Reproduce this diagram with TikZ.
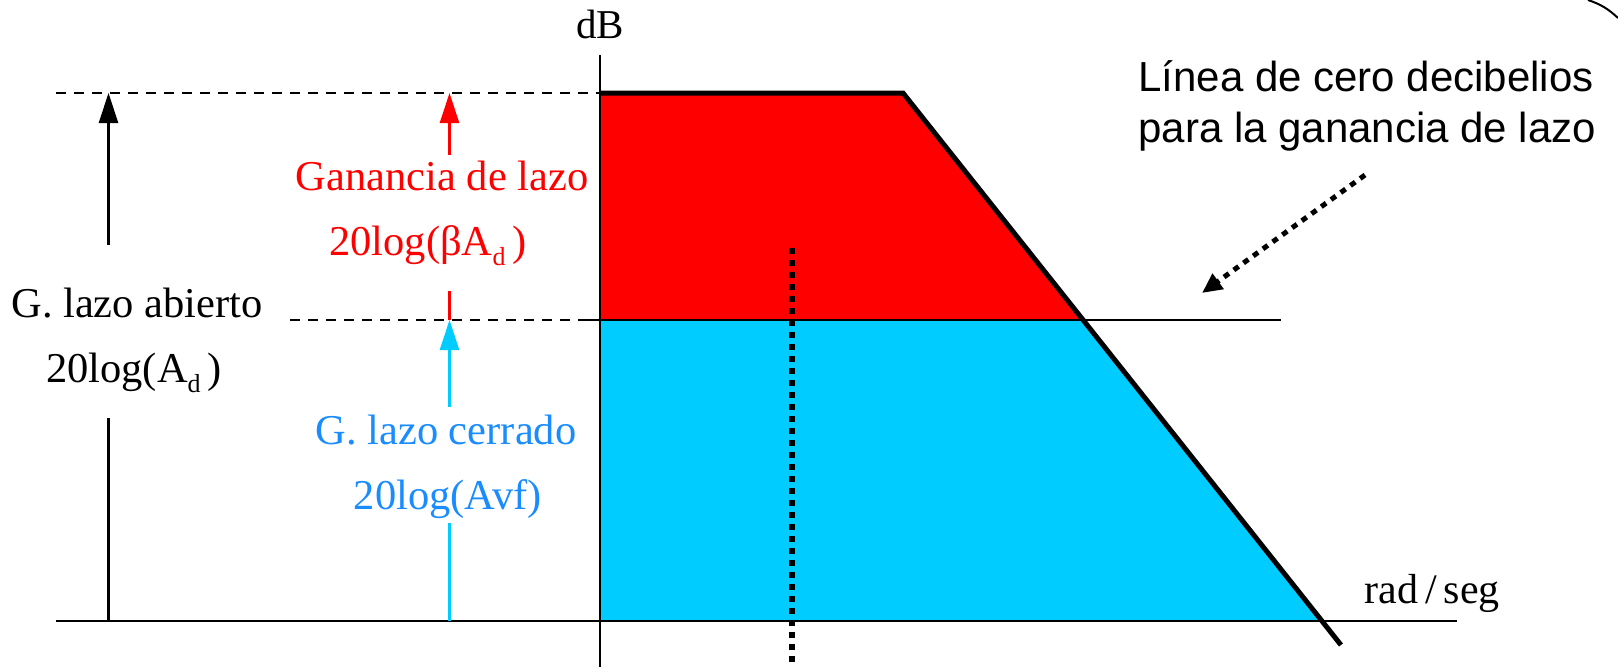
\documentclass[tikz,border=0pt]{standalone}
\usepackage{fontspec}
\setmainfont{Liberation Serif}
\newfontfamily\arialf{Liberation Sans}
\usetikzlibrary{arrows.meta}
\definecolor{myred}{RGB}{255,0,0}
\definecolor{mycyan}{RGB}{0,204,255}
\definecolor{myblue}{RGB}{25,140,255}
\newcommand{\subd}{\raisebox{-5pt}{\fontsize{13}{13}\selectfont d}}
\tikzset{
  lbl/.style={font=\fontsize{21.25}{25}\selectfont, inner sep=0pt, anchor=base},
  smalllbl/.style={font=\fontsize{20.5}{24}\selectfont, inner sep=0pt, anchor=base},
  sanslbl/.style={font=\arialf\fontsize{21}{25}\selectfont, inner sep=0pt, anchor=base west},
  axisline/.style={line width=1pt, black},
  guide/.style={line width=1pt, black, dash pattern=on 5pt off 4pt},
  gainarrow/.style={line width=1.4pt, -{Triangle[length=15pt,width=9.5pt]}},
  gainseg/.style={line width=1.4pt},
  dotline/.style={line width=3pt, black, dash pattern=on 3pt off 3pt},
  curve/.style={line width=2.5pt, black, line join=miter},
}
\begin{document}
\begin{tikzpicture}[x=0.5pt,y=-0.5pt]
\useasboundingbox (0,0) rectangle (1618,669);
% coordinates
\coordinate (O) at (600,621);
\coordinate (Ytop) at (600,55);
\coordinate (Ybot) at (600,667);
\coordinate (Xl) at (56,621);
\coordinate (Xr) at (1457,621);
\coordinate (T0) at (600,93);
\coordinate (T1) at (903,93);
\coordinate (M0) at (600,320);
\coordinate (M1) at (1083,320);
\coordinate (B1) at (1322,621);
\coordinate (Cend) at (1341,645);
% fills
\fill[myred] (T0) -- (T1) -- (M1) -- (M0) -- cycle;
\fill[mycyan] (M0) -- (M1) -- (B1) -- (O) -- cycle;
% axes
\draw[axisline] (Ytop) -- (Ybot);
\draw[axisline] (Xl) -- (Xr);
% guides
\coordinate (TDl) at (56,93);
\coordinate (MDl) at (290,320);
\coordinate (MSl) at (587,320);
\coordinate (MSr) at (1281,320);
\draw[guide] (TDl) -- (T0);
\draw[guide] (MDl) -- (M0);
\draw[axisline] (MSl) -- (MSr);
% response curve
\draw[curve] (T0) -- (T1) -- (Cend);
% vertical dotted line
\coordinate (V0) at (792,248);
\coordinate (V1) at (792,663);
\draw[dotline] (V0) -- (V1);
% open-loop gain arrow (black)
\coordinate (Ka) at (108.5,245);
\coordinate (Kt) at (108.5,93);
\coordinate (Kb) at (108.5,418);
\coordinate (Kz) at (108.5,621);
\draw[gainarrow, black] (Ka) -- (Kt);
\draw[gainseg, black] (Kb) -- (Kz);
% loop gain arrow (red)
\coordinate (Ra) at (449.5,155);
\coordinate (Rt) at (449.5,93);
\coordinate (Rb) at (449.5,291);
\coordinate (Rz) at (449.5,320);
\draw[gainarrow, myred] (Ra) -- (Rt);
\draw[gainseg, myred] (Rb) -- (Rz);
% closed-loop gain arrow (cyan)
\coordinate (Ca) at (449.5,407);
\coordinate (Ct) at (449.5,320);
\coordinate (Cb) at (449.5,523);
\coordinate (Cz) at (449.5,621);
\draw[gainarrow, mycyan] (Ca) -- (Ct);
\draw[gainseg, mycyan] (Cb) -- (Cz);
% labels
\node[smalllbl] (dB) at (600,39) {dB};
\node[smalllbl, font=\fontsize{21}{24}\selectfont, anchor=base west] (rs) at (1364,603) {rad\,/\,seg};
\node[lbl, text=myred] (g1) at (442,190) {Ganancia de lazo};
\node[lbl, text=myred] (g2) at (428,255) {20log(βA\subd\,)};
\node[lbl] (o1) at (137,317) {G. lazo abierto};
\node[lbl] (o2) at (134,382) {20log(A\subd\,)};
\node[lbl, text=myblue] (c1) at (446,444) {G. lazo cerrado};
\node[lbl, text=myblue] (c2) at (448,509) {20log(Avf)};
\node[sanslbl] (n1) at (1138,91) {Línea de cero decibelios};
\node[sanslbl] (n2) at (1138,142) {para la ganancia de lazo};
% pointer
\coordinate (Ps) at (1365,175);
\coordinate (Pe) at (1202,293);
\draw[line width=2.5pt, dash pattern=on 3pt off 3pt, -{Triangle[length=10pt,width=9pt]}] (Ps) -- (Pe);
% corner arc
\coordinate (A0) at (1588,0);
\coordinate (A1) at (1618,18);
\draw[line width=1pt] (A0) to[bend left=12] (A1);
\end{tikzpicture}
\end{document}
